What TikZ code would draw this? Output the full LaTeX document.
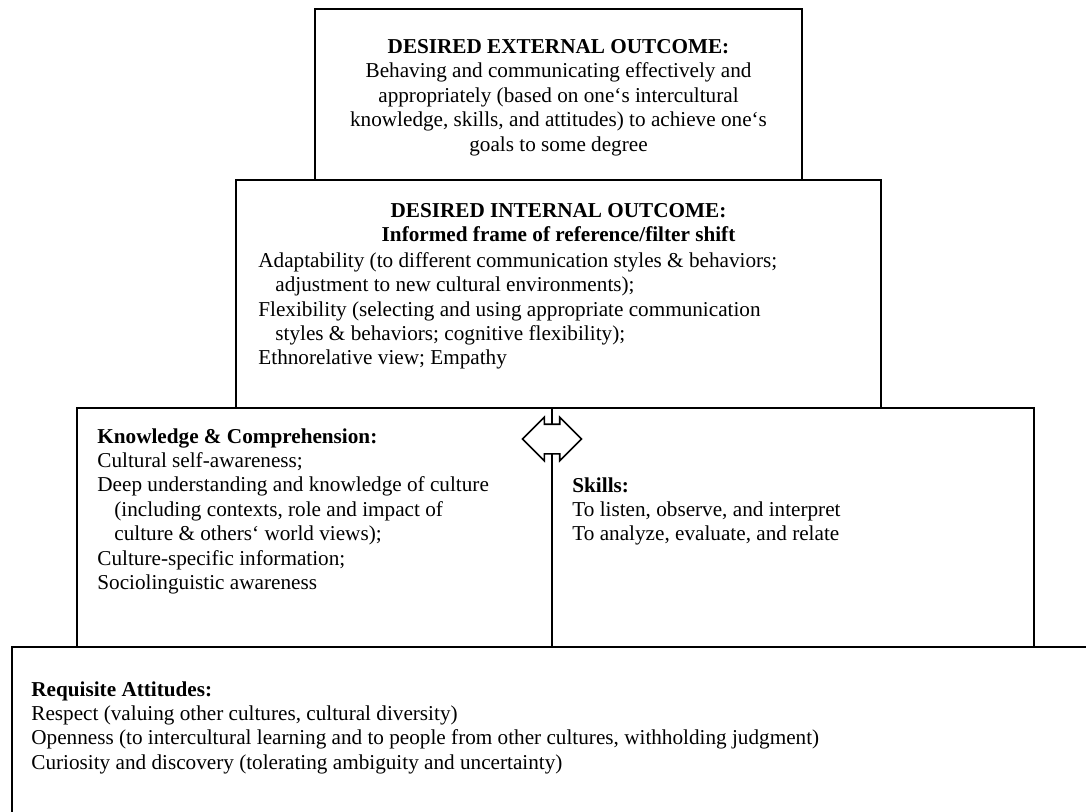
\documentclass[tikz,border=0pt]{standalone}
\usepackage{fontspec}
\setmainfont{Liberation Serif}
\usepackage{tikz}
\usetikzlibrary{
  shapes.arrows,
  positioning,
  calc
}
\tikzset{
  tier/.style = {
    rectangle, draw=black, line width=1.1pt,
    outer sep=0pt, inner sep=0pt
  },
  txt/.style = {
    inner sep=0pt, align=#1,
    font=\fontsize{10.6}{12.2}\selectfont,
    execute at begin node={\strut}
  },
  txt/.default = left,
  link/.style = {
    double arrow, draw=black, fill=white, line width=0.8pt,
    inner xsep=0pt, inner ysep=7pt,
    minimum height=29.5pt, minimum width=21pt,
    double arrow head extend=3.5pt, double arrow tip angle=90
  },
}
\newcommand{\hang}{\hspace*{8.5pt}}

\begin{document}
\begin{tikzpicture}[x=0.5pt, y=-0.5pt]

  \path[use as bounding box, clip] (0,0) rectangle (1086,811);

  %% ── Boxes ──────────────────────────────────────────────────────────────
  \node[tier, minimum width=243.5pt, minimum height=85.5pt, anchor=north]
    (ext) at (558.5,9) {};
  \node[tier, minimum width=322.5pt, minimum height=114pt, below=0pt of ext]
    (int) {};
  \node[tier, minimum width=237.5pt, minimum height=119.5pt,
        anchor=north east] (know) at (552,408) {};
  \node[tier, minimum width=241pt, minimum height=119.5pt, right=0pt of know]
    (skills) {};
  \node[tier, minimum width=544pt, minimum height=92pt, anchor=north west]
    (att) at (12,647) {};

  %% ── Texts ──────────────────────────────────────────────────────────────
  \node[txt=center, anchor=north] (ext_txt) at ($(ext.north)+(0,30)$)
    {\textbf{DESIRED EXTERNAL OUTCOME:}\\
     Behaving and communicating effectively and\\
     appropriately (based on one‘s intercultural\\
     knowledge, skills, and attitudes) to achieve one‘s\\
     goals to some degree};

  \node[txt=center, anchor=north] (int_head) at ($(int.north)+(0,23)$)
    {\textbf{DESIRED INTERNAL OUTCOME:}\\
     \textbf{Informed frame of reference/filter shift}};
  \node[txt, anchor=north west] (int_txt) at ($(int.north west)+(22,72)$)
    {Adaptability (to different communication styles \& behaviors;\\
     \hang adjustment to new cultural environments);\\
     Flexibility (selecting and using appropriate communication\\
     \hang styles \& behaviors; cognitive flexibility);\\
     Ethnorelative view; Empathy};

  \node[txt, anchor=north west] (know_txt) at ($(know.north west)+(20,20)$)
    {\textbf{Knowledge \& Comprehension:}\\
     Cultural self-awareness;\\
     Deep understanding and knowledge of culture\\
     \hang (including contexts, role and impact of\\
     \hang culture \& others‘ world views);\\
     Culture-specific information;\\
     Sociolinguistic awareness};

  \node[txt, anchor=north west] (skills_txt) at ($(skills.north west)+(20,69)$)
    {\textbf{Skills:}\\
     To listen, observe, and interpret\\
     To analyze, evaluate, and relate};

  \node[txt, anchor=north west] (att_txt) at ($(att.north west)+(19,34)$)
    {\textbf{Requisite Attitudes:}\\
     Respect (valuing other cultures, cultural diversity)\\
     Openness (to intercultural learning and to people from other cultures, withholding judgment)\\
     Curiosity and discovery (tolerating ambiguity and uncertainty)};

  %% ── Two-way arrow between knowledge and skills ─────────────────────────
  \node[link] (both) at ($(know.north east)+(0,31)$) {};

\end{tikzpicture}
\end{document}
